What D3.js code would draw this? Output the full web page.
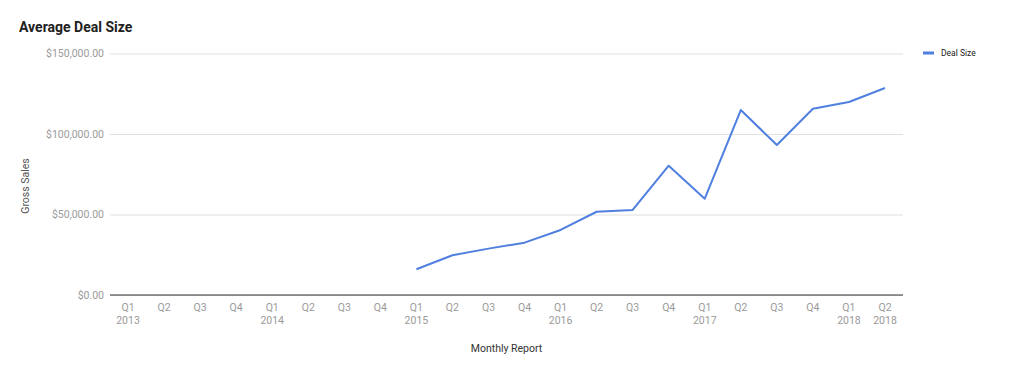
<!DOCTYPE html>
<html>
<head>
  <meta charset="UTF-8">
  <style>
    body {
      margin: 0;
      padding: 0;
      background: #ffffff;
      font-family: Roboto, Arial, sans-serif;
    }
    svg {
      display: block;
    }
  </style>
</head>
<body>
<svg></svg>
<script src="https://d3js.org/d3.v7.min.js"></script>
<script>
// quarters from Q1 2013 to Q2 2018
let quarters = ["Q1", "Q2", "Q3", "Q4", "Q1", "Q2", "Q3", "Q4", "Q1", "Q2", "Q3",
                "Q4", "Q1", "Q2", "Q3", "Q4", "Q1", "Q2", "Q3", "Q4", "Q1", "Q2"];
let years = ["2013", "", "", "", "2014", "", "", "", "2015", "", "",
             "", "2016", "", "", "", "2017", "", "", "", "2018", "2018"];
// no data before 2015
let dealSize = [null, null, null, null, null, null, null, null,
                16000, 24700, 28800, 32500, 40400, 51700, 52800, 80300,
                59800, 114900, 93200, 115700, 119900, 128600];
let yTicks = [0, 50000, 100000, 150000];

let width = 1020, height = 373;
let margin = {left: 110, right: 117, top: 53.5, bottom: 78};

let svg = d3.select("svg")
    .attr("width", width)
    .attr("height", height);

let x = d3.scaleBand()
    .domain(d3.range(quarters.length))
    .range([margin.left, width - margin.right]);

let y = d3.scaleLinear()
    .domain([0, 150000])
    .range([height - margin.bottom, margin.top]);

let money = d3.format("$,.2f");

// title
svg.append("text")
    .attr("x", 19)
    .attr("y", 32)
    .attr("font-size", 14)
    .attr("font-weight", "bold")
    .attr("fill", "#212121")
    .text("Average Deal Size");

// gridlines + y labels
let yAxis = svg.append("g")
    .attr("transform", `translate(${margin.left},0)`)
    .call(d3.axisLeft(y).tickValues(yTicks).tickFormat(money)
        .tickSize(-(width - margin.left - margin.right)).tickPadding(6));
yAxis.select(".domain").remove();
yAxis.selectAll(".tick line").attr("stroke", "#e0e0e0");
yAxis.selectAll(".tick text")
    .attr("fill", "#9a9a9a")
    .attr("font-size", 10.5)
    .attr("font-family", "Roboto, Arial, sans-serif");

// baseline
svg.append("line")
    .attr("x1", margin.left)
    .attr("x2", width - margin.right)
    .attr("y1", y(0))
    .attr("y2", y(0))
    .attr("stroke", "#333")
    .attr("stroke-width", 1);

// x labels
let xl = svg.append("g")
    .selectAll("text")
    .data(quarters)
    .enter()
    .append("text")
    .attr("x", (d, i) => x(i) + x.bandwidth() / 2)
    .attr("text-anchor", "middle")
    .attr("fill", "#9a9a9a")
    .attr("font-size", 10.5);
xl.append("tspan")
    .attr("x", (d, i) => x(i) + x.bandwidth() / 2)
    .attr("y", 310.5)
    .text(d => d);
xl.append("tspan")
    .attr("x", (d, i) => x(i) + x.bandwidth() / 2)
    .attr("y", 324)
    .text((d, i) => years[i]);

// axis titles
svg.append("text")
    .attr("x", (margin.left + width - margin.right) / 2)
    .attr("y", 352)
    .attr("text-anchor", "middle")
    .attr("font-size", 10.5)
    .attr("fill", "#333")
    .text("Monthly Report");

svg.append("text")
    .attr("transform", "translate(29,186) rotate(-90)")
    .attr("text-anchor", "middle")
    .attr("font-size", 10.5)
    .attr("fill", "#555")
    .text("Gross Sales");

// line
let line = d3.line()
    .defined(d => d != null)
    .x((d, i) => x(i) + x.bandwidth() / 2)
    .y(d => y(d));

svg.append("path")
    .datum(dealSize)
    .attr("d", line)
    .attr("fill", "none")
    .attr("stroke", "#4f7fdf")
    .attr("stroke-width", 2)
    .attr("stroke-linejoin", "round");

// legend
let legend = svg.append("g").attr("transform", "translate(923,53)");
legend.append("line")
    .attr("x1", 0)
    .attr("x2", 11)
    .attr("stroke", "#4f7fdf")
    .attr("stroke-width", 3);
legend.append("text")
    .attr("x", 18)
    .attr("y", 3)
    .attr("font-size", 8.5)
    .attr("fill", "#222")
    .text("Deal Size");
</script>
</body>
</html>
